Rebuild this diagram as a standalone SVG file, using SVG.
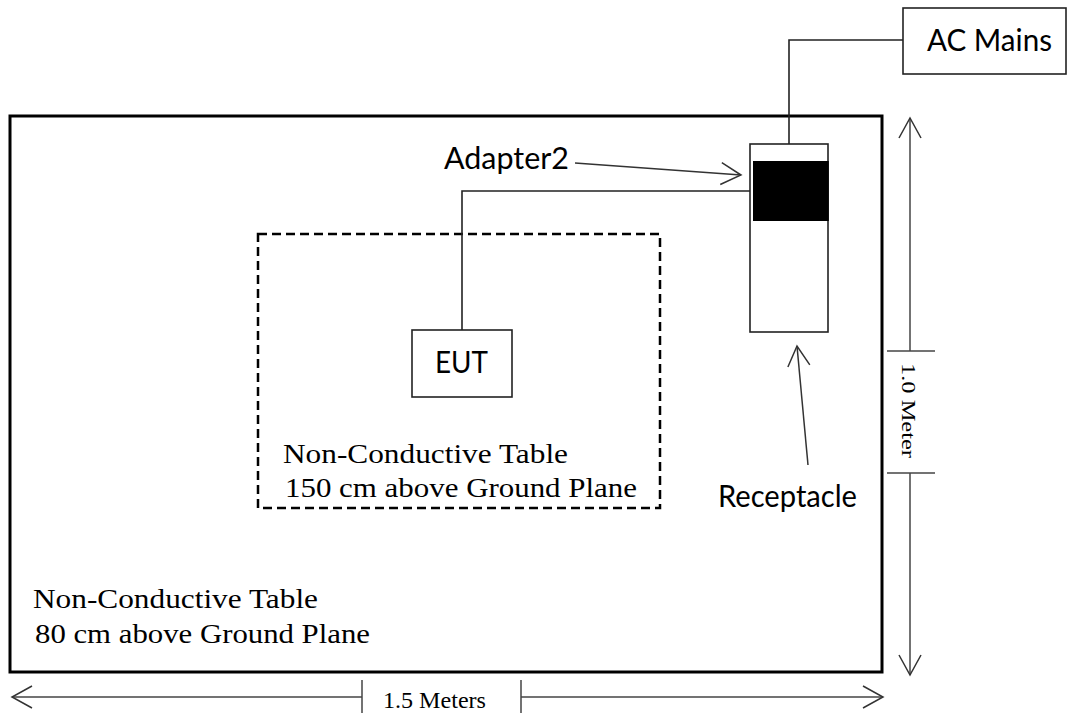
<svg xmlns="http://www.w3.org/2000/svg" width="1077" height="717" viewBox="0 0 1077 717">
<style>
.box{fill:#fff;stroke:#222;stroke-width:1.6}
.wire{fill:none;stroke:#222;stroke-width:1.6}
.ptr{fill:none;stroke:#333;stroke-width:1.5}
.dim{fill:none;stroke:#444;stroke-width:1.5}
.sans{font-family:Lato,"Open Sans",sans-serif;font-size:30px;fill:#000}
.serif{font-family:"Liberation Serif","Times New Roman",serif;font-size:28px;fill:#000}
</style>
<defs>
<marker id="open" viewBox="-24 -14 28 28" markerWidth="28" markerHeight="28" refX="0" refY="0" orient="auto" markerUnits="userSpaceOnUse">
<path d="M -20 -11 L 0 0 L -20 11" fill="none" stroke="#333" stroke-width="1.5"/>
</marker>
</defs>
<rect width="1077" height="717" fill="#fff"/>
<g id="outer-table">
<rect x="10" y="116" width="872" height="556" fill="none" stroke="#000" stroke-width="3"/>
<text class="serif" x="33" y="608" textLength="285" lengthAdjust="spacingAndGlyphs">Non-Conductive Table</text>
<text class="serif" x="35" y="643" textLength="335" lengthAdjust="spacingAndGlyphs">80 cm above Ground Plane</text>
</g>
<g id="inner-table">
<rect x="258" y="234" width="402" height="274" fill="none" stroke="#000" stroke-width="2.5" stroke-dasharray="9 5"/>
<text class="serif" x="283" y="463" textLength="285" lengthAdjust="spacingAndGlyphs">Non-Conductive Table</text>
<text class="serif" x="285" y="497" textLength="352" lengthAdjust="spacingAndGlyphs">150 cm above Ground Plane</text>
</g>
<g id="connectors">
<polyline class="wire" points="903,40 789,40 789,144"/>
<polyline class="wire" points="462,330 462,191 753,191"/>
<line class="ptr" x1="575" y1="163" x2="741" y2="175" marker-end="url(#open)"/>
<line class="ptr" x1="808" y1="465" x2="797" y2="346" marker-end="url(#open)"/>
</g>
<g id="ac-mains">
<rect class="box" x="903" y="8" width="163" height="66"/>
<text class="sans" x="927" y="51" textLength="125" lengthAdjust="spacingAndGlyphs">AC Mains</text>
</g>
<g id="receptacle">
<rect class="box" x="750" y="144" width="78" height="188"/>
<rect x="753" y="161" width="75.8" height="60" fill="#000"/>
</g>
<g id="adapter2-label">
<text class="sans" x="444" y="169" textLength="125" lengthAdjust="spacingAndGlyphs">Adapter2</text>
</g>
<g id="receptacle-label">
<text class="sans" x="718" y="507" textLength="139" lengthAdjust="spacingAndGlyphs">Receptacle</text>
</g>
<g id="eut">
<rect class="box" x="412" y="330" width="100" height="67"/>
<text class="sans" x="435" y="373" textLength="53" lengthAdjust="spacingAndGlyphs">EUT</text>
</g>
<g id="dim-vertical">
<line class="dim" x1="910" y1="351" x2="910" y2="118" marker-end="url(#open)"/>
<line class="dim" x1="910" y1="473" x2="910" y2="675" marker-end="url(#open)"/>
<line class="dim" x1="887" y1="351" x2="935" y2="351"/>
<line class="dim" x1="887" y1="473" x2="935" y2="473"/>
<text class="serif" style="font-size:19px" transform="translate(902,363) rotate(90)" textLength="95" lengthAdjust="spacingAndGlyphs">1.0 Meter</text>
</g>
<g id="dim-horizontal">
<line class="dim" x1="362" y1="697" x2="12" y2="697" marker-end="url(#open)"/>
<line class="dim" x1="521" y1="697" x2="883" y2="697" marker-end="url(#open)"/>
<line class="dim" x1="362" y1="680" x2="362" y2="713"/>
<line class="dim" x1="521" y1="680" x2="521" y2="713"/>
<text class="serif" style="font-size:23px" x="383" y="708" textLength="103" lengthAdjust="spacingAndGlyphs">1.5 Meters</text>
</g>
</svg>
